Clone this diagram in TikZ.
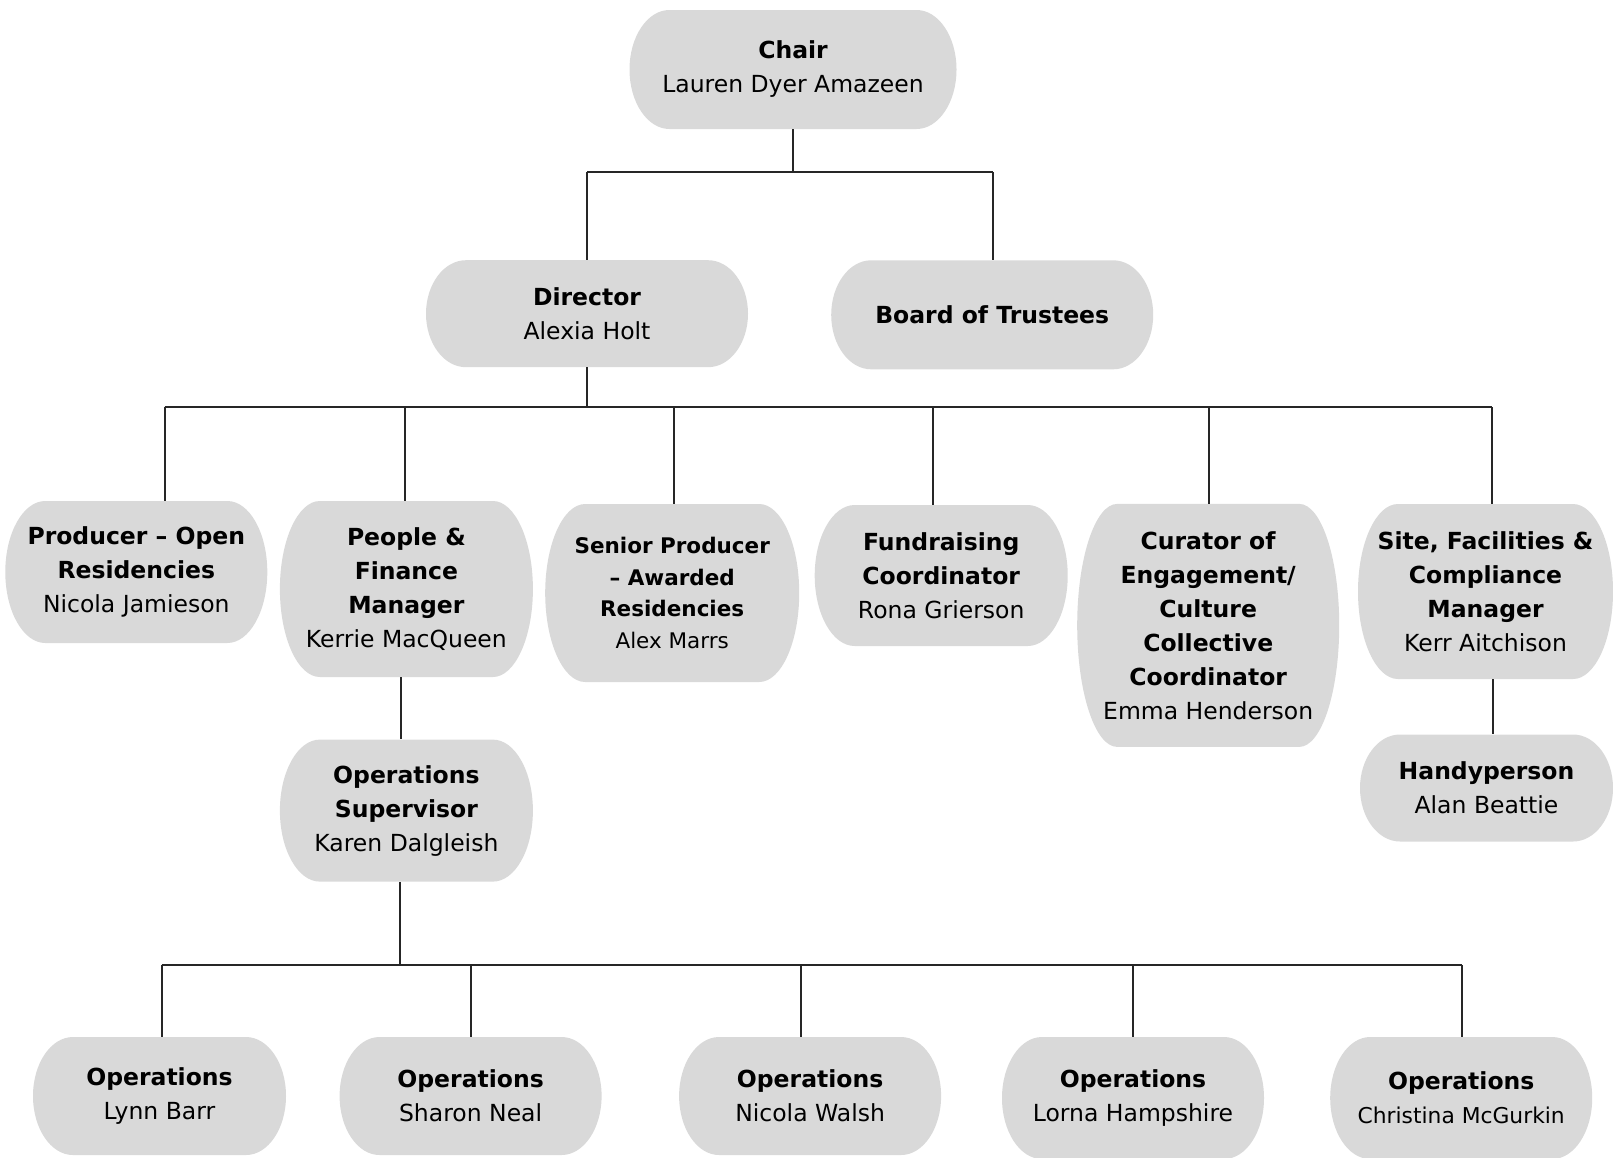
\documentclass[tikz,border=0pt]{standalone}
\usepackage{fontspec}
\setmainfont{DejaVu Sans}
\usetikzlibrary{calc}
\definecolor{boxgray}{HTML}{D9D9D9}
\definecolor{linecol}{HTML}{262626}
\tikzset{
  pill/.style={inner sep=0pt, align=center, text=black, fill=white,
    font=\fontsize{23.5}{34}\selectfont,
    path picture={\fill[boxgray] let \p1=(path picture bounding box.south west),
        \p2=(path picture bounding box.north east),
        \n1={(\y1+\y2)/2}, \n2={(\y2-\y1)/2}, \n3={40pt} in
      (\x1+\n3,\y2) -- (\x2-\n3,\y2)
      .. controls (\x2-0.4477*\n3,\y2) and (\x2,\n1+0.5523*\n2) .. (\x2,\n1)
      .. controls (\x2,\n1-0.5523*\n2) and (\x2-0.4477*\n3,\y1) .. (\x2-\n3,\y1)
      -- (\x1+\n3,\y1)
      .. controls (\x1+0.4477*\n3,\y1) and (\x1,\n1-0.5523*\n2) .. (\x1,\n1)
      .. controls (\x1,\n1+0.5523*\n2) and (\x1+0.4477*\n3,\y2) .. cycle;}},
  conn/.style={draw=linecol, line width=2pt}
}
\begin{document}
\begin{tikzpicture}[x=1pt,y=-1pt]
\useasboundingbox (0,0) rectangle (1613,1157);
\clip (0,0) rectangle (1613,1157);
% level 0
\node[pill, minimum width=327pt, minimum height=119pt] (chair) at (793,69.5)
  {\textbf{Chair}\\Lauren Dyer Amazeen};
% level 1
\node[pill, minimum width=322pt, minimum height=107pt] (director) at (587,313.7)
  {\textbf{Director}\\Alexia Holt};
\node[pill, minimum width=322pt, minimum height=109pt] (board) at (992.2,314.8)
  {\textbf{Board of Trustees}};
% level 2
\node[pill, minimum width=262pt, minimum height=142pt] (prod) at (136.3,572)
  {\textbf{Producer – Open}\\\textbf{Residencies}\\Nicola Jamieson};
\node[pill, minimum width=253pt, minimum height=176pt] (people) at (406.4,589)
  {\textbf{People \&}\\\textbf{Finance}\\\textbf{Manager}\\Kerrie MacQueen};
\node[pill, minimum width=254pt, minimum height=178pt, font=\fontsize{21.5}{31.5}\selectfont] (senior) at (672.2,593)
  {\textbf{Senior Producer}\\\textbf{– Awarded}\\\textbf{Residencies}\\Alex Marrs};
\node[pill, minimum width=253pt, minimum height=141pt] (fund) at (941.2,575.5)
  {\textbf{Fundraising}\\\textbf{Coordinator}\\Rona Grierson};
\node[pill, minimum width=262pt, minimum height=243pt] (curator) at (1208.2,625.4)
  {\textbf{Curator of}\\\textbf{Engagement/}\\\textbf{Culture}\\\textbf{Collective}\\\textbf{Coordinator}\\Emma Henderson};
\node[pill, minimum width=255pt, minimum height=175pt] (site) at (1485.5,591.5)
  {\textbf{Site, Facilities \&}\\\textbf{Compliance}\\\textbf{Manager}\\Kerr Aitchison};
% level 3
\node[pill, minimum width=253pt, minimum height=142pt] (opsup) at (406.4,810.6)
  {\textbf{Operations}\\\textbf{Supervisor}\\Karen Dalgleish};
\node[pill, minimum width=253pt, minimum height=107pt] (handy) at (1486.5,788)
  {\textbf{Handyperson}\\Alan Beattie};
% level 4
\node[pill, minimum width=253pt, minimum height=118pt] (op1) at (159.5,1096)
  {\textbf{Operations}\\Lynn Barr};
\node[pill, minimum width=262pt, minimum height=118pt] (op2) at (470.6,1096)
  {\textbf{Operations}\\Sharon Neal};
\node[pill, minimum width=262pt, minimum height=118pt] (op3) at (810.1,1096)
  {\textbf{Operations}\\Nicola Walsh};
\node[pill, minimum width=262pt, minimum height=122pt] (op4) at (1133,1098)
  {\textbf{Operations}\\Lorna Hampshire};
\node[pill, minimum width=262pt, minimum height=122pt] (op5) at (1461.2,1098)
  {\textbf{Operations}\\{\fontsize{21.8}{31}\selectfont Christina McGurkin}};
% bus coordinates
\coordinate (b1l) at (587.4,172);
\coordinate (b1r) at (992.7,172);
\coordinate (b2l) at (164.6,407.4);
\coordinate (b2r) at (1491.6,407.4);
\coordinate (d2) at (405.3,407.4);
\coordinate (d3) at (673.8,407.4);
\coordinate (d4) at (933,407.4);
\coordinate (d5) at (1208.7,407.4);
\coordinate (pf) at (401,0);
\coordinate (sh) at (1493,0);
\coordinate (b3l) at (161.5,965);
\coordinate (b3r) at (1462,965);
\coordinate (o2) at (471,965);
\coordinate (o3) at (801,965);
\coordinate (o4) at (1132.6,965);
\coordinate (os) at (400,965);
% connectors
\draw[conn] (chair.south) -- (chair.south |- b1l);
\draw[conn] (b1l) -- (b1r);
\draw[conn] (b1l) -- (director.north -| b1l);
\draw[conn] (b1r) -- (board.north -| b1r);
\draw[conn] (director.south) -- ($(director.south |- b2l)+(0,1)$);
\draw[conn] (b2l) -- (b2r);
\draw[conn] (b2l) -- (prod.north -| b2l);
\draw[conn] (d2) -- (people.north -| d2);
\draw[conn] (d3) -- (senior.north -| d3);
\draw[conn] (d4) -- (fund.north -| d4);
\draw[conn] (d5) -- (curator.north -| d5);
\draw[conn] (b2r) -- (site.north -| b2r);
\draw[conn] (people.south -| pf) -- (opsup.north -| pf);
\draw[conn] (site.south -| sh) -- (handy.north -| sh);
\draw[conn] (opsup.south -| os) -- (os);
\draw[conn] (b3l) -- (b3r);
\draw[conn] (b3l) -- (op1.north -| b3l);
\draw[conn] (o2) -- (op2.north -| o2);
\draw[conn] (o3) -- (op3.north -| o3);
\draw[conn] (o4) -- (op4.north -| o4);
\draw[conn] (b3r) -- (op5.north -| b3r);
\end{tikzpicture}
\end{document}
